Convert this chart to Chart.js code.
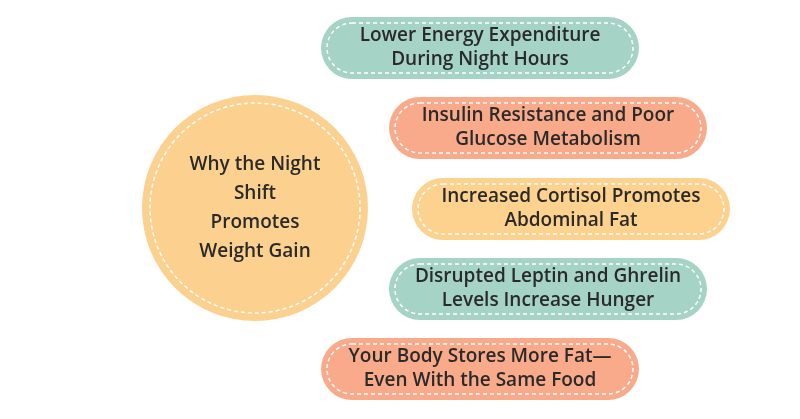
<!DOCTYPE html>
<html>
<head>
<meta charset="utf-8">
<script src="https://cdn.jsdelivr.net/npm/chart.js"></script>
<style>
  html,body{margin:0;padding:0;background:#fff;}
  #c{display:block;}
</style>
</head>
<body>
<canvas id="c" width="800" height="419"></canvas>
<script>
// DATA
const title=["Why the Night","Shift","Promotes","Weight Gain"];
const reasons=[
  ["Lower Energy Expenditure","During Night Hours"],
  ["Insulin Resistance and Poor","Glucose Metabolism"],
  ["Increased Cortisol Promotes","Abdominal Fat"],
  ["Disrupted Leptin and Ghrelin","Levels Increase Hunger"],
  ["Your Body Stores More Fat\u2014","Even With the Same Food"]
];
const reasonX=[480,548,571,548,480];
const reasonY=[48,128,209,289,369];
const fills=["#a5d3c6","#f8aa8a","#fcd28e","#a5d3c6","#f8aa8a"];
const hubX=[255], hubY=[208];

function rr(ctx,x,y,w,h,r){
  ctx.beginPath();
  ctx.moveTo(x+r,y);ctx.lineTo(x+w-r,y);ctx.arc(x+w-r,y+r,r,-Math.PI/2,Math.PI/2);
  ctx.lineTo(x+r,y+h);ctx.arc(x+r,y+r,r,Math.PI/2,Math.PI*1.5);ctx.closePath();
}

// DRAW
const shapes={
  id:"shapes",
  afterDatasetsDraw(chart){
    const ctx=chart.ctx, xs=chart.scales.x, ys=chart.scales.y;
    ctx.save();
    // hub circle
    const cx=xs.getPixelForValue(hubX[0]), cy=ys.getPixelForValue(hubY[0]);
    const R=Math.abs(ys.getPixelForValue(0)-ys.getPixelForValue(113));
    ctx.fillStyle="#fcd18f";
    ctx.beginPath();ctx.arc(cx,cy,R,0,Math.PI*2);ctx.fill();
    ctx.strokeStyle="#fff";ctx.lineWidth=1.5;ctx.setLineDash([4,3]);
    ctx.beginPath();ctx.arc(cx,cy,R-8,0,Math.PI*2);ctx.stroke();
    ctx.setLineDash([]);
    ctx.fillStyle="#2a2a2a";ctx.font="600 19px 'Open Sans'";
    ctx.textAlign="center";ctx.textBaseline="middle";
    title.forEach((t,i)=>ctx.fillText(t,cx,cy+(i-1.5)*29));
    // pills
    reasons.forEach((lines,i)=>{
      const px=xs.getPixelForValue(reasonX[i]), py=ys.getPixelForValue(reasonY[i]);
      const w=318,h=62;
      ctx.fillStyle=fills[i];
      rr(ctx,px-w/2,py-h/2,w,h,h/2);ctx.fill();
      ctx.strokeStyle="#fff";ctx.lineWidth=1.5;ctx.setLineDash([4,3]);
      rr(ctx,px-w/2+6,py-h/2+6,w-12,h-12,(h-12)/2);ctx.stroke();
      ctx.setLineDash([]);
      ctx.fillStyle="#2a2a2a";ctx.font="600 19px 'Open Sans'";
      lines.forEach((t,j)=>ctx.fillText(t,px,py+(j-0.5)*24));
    });
    ctx.restore();
  }
};

new Chart(document.getElementById("c"),{
  type:"scatter",
  data:{datasets:[{
    data:reasonX.map((x,i)=>({x:x,y:reasonY[i]})),
    pointRadius:0
  }]},
  options:{
    responsive:false,animation:false,
    layout:{padding:0},
    plugins:{legend:{display:false},tooltip:{enabled:false}},
    scales:{
      x:{display:false,min:0,max:800},
      y:{display:false,min:0,max:419,reverse:true}
    }
  },
  plugins:[shapes]
});
</script>
</body>
</html>
